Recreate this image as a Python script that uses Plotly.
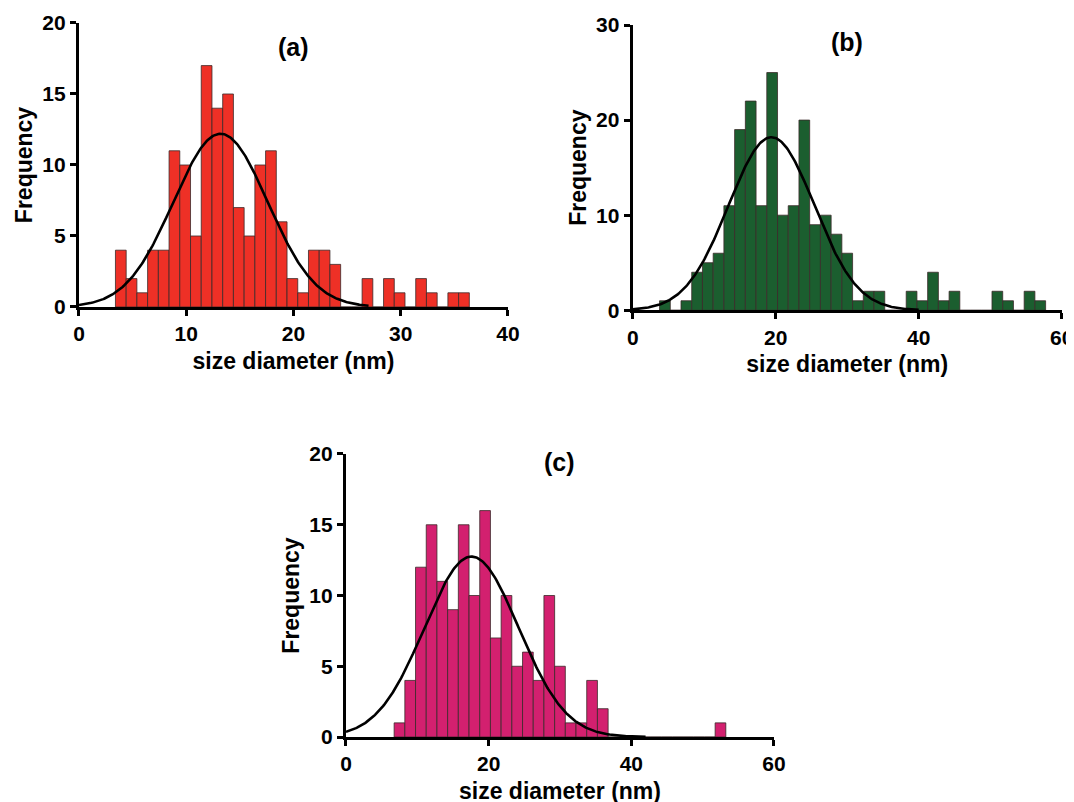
import numpy as np
import plotly.graph_objects as go

# ---------------- data ----------------
a_centers = [3.9, 4.9, 5.9, 6.9, 7.9, 8.9, 9.9, 10.9, 11.9, 12.9, 13.9, 14.9, 15.9,
             16.9, 17.9, 18.9, 19.9, 20.9, 21.9, 22.9, 23.9, 24.9, 25.9, 26.9, 27.9,
             28.9, 29.9, 30.9, 31.9, 32.9, 33.9, 34.9, 35.9]
a_counts = [4, 2, 1, 4, 4, 11, 10, 5, 17, 14, 15, 7, 5, 10, 11, 6, 2, 1, 4, 4, 3,
            0, 0, 2, 0, 2, 1, 0, 2, 1, 0, 1, 1]
a_width = 1.0
a_fit = {"amp": 12.2, "mean": 13.2, "sigma": 4.4, "xmax": 27}

b_centers = [4.5, 6.0, 7.5, 9.0, 10.5, 12.0, 13.5, 15.0, 16.5, 18.0, 19.5, 21.0,
             22.5, 24.0, 25.5, 27.0, 28.5, 30.0, 31.5, 33.0, 34.5, 36.0, 37.5, 39.0,
             40.5, 42.0, 43.5, 45.0, 46.5, 48.0, 49.5, 51.0, 52.5, 54.0, 55.5, 57.0]
b_counts = [1, 0, 1, 4, 5, 6, 11, 19, 22, 11, 25, 10, 11, 20, 9, 10, 8, 6, 1, 2, 2,
            0, 0, 2, 1, 4, 1, 2, 0, 0, 0, 2, 1, 0, 2, 1]
b_width = 1.5
b_fit = {"amp": 18.2, "mean": 19.4, "sigma": 6.0, "xmax": 40}

c_centers = [7.5, 9.0, 10.5, 12.0, 13.5, 15.0, 16.5, 18.0, 19.5, 21.0, 22.5, 24.0,
             25.5, 27.0, 28.5, 30.0, 31.5, 33.0, 34.5, 36.0, 37.5, 39.0, 40.5, 42.0,
             43.5, 45.0, 46.5, 48.0, 49.5, 51.0, 52.5]
c_counts = [1, 4, 12, 15, 11, 9, 15, 10, 16, 7, 10, 5, 6, 4, 10, 5, 1, 1, 4, 2,
            0, 0, 0, 0, 0, 0, 0, 0, 0, 0, 1]
c_width = 1.5
c_fit = {"amp": 12.75, "mean": 17.6, "sigma": 6.6, "xmax": 42}

panel_titles = ["(a)", "(b)", "(c)"]
x_label = "size diameter (nm)"
y_label = "Frequency"

# ---------------- styling ----------------
colors = ["#EE3026", "#1B5E2F", "#D3206F"]
FONT = "Liberation Sans, Arial, Helvetica, sans-serif"

panels = [
    dict(centers=a_centers, counts=a_counts, width=a_width, fit=a_fit,
         xr=[0, 40], xt=[0, 10, 20, 30, 40], yr=[0, 20], yt=[0, 5, 10, 15, 20],
         xdom=[0.0661, 0.4655], ydom=[0.6272, 0.9813], title_xy=(20, 18.3)),
    dict(centers=b_centers, counts=b_counts, width=b_width, fit=b_fit,
         xr=[0, 60], xt=[0, 20, 40, 60], yr=[0, 30], yt=[0, 10, 20, 30],
         xdom=[0.5817, 0.9811], ydom=[0.6231, 0.9788], title_xy=(30, 28.2)),
    dict(centers=c_centers, counts=c_counts, width=c_width, fit=c_fit,
         xr=[0, 60], xt=[0, 20, 40, 60], yr=[0, 20], yt=[0, 5, 10, 15, 20],
         xdom=[0.3147, 0.7132], ydom=[0.0910, 0.4439], title_xy=(30, 19.4)),
]

fig = go.Figure()
layout = dict(
    width=1074, height=802,
    margin=dict(l=0, r=0, t=0, b=0),
    paper_bgcolor="white", plot_bgcolor="white",
    showlegend=False,
    font=dict(family=FONT, color="black"),
)
annotations = []

for i, p in enumerate(panels):
    n = "" if i == 0 else str(i + 1)
    xa, ya = "x" + n, "y" + n
    fig.add_trace(go.Bar(
        x=p["centers"], y=p["counts"], width=p["width"],
        marker=dict(color=colors[i], line=dict(color="#3a2a2a", width=0.8)),
        xaxis=xa, yaxis=ya,
    ))
    f = p["fit"]
    xs = np.linspace(0, f["xmax"], 300)
    ys = f["amp"] * np.exp(-((xs - f["mean"]) ** 2) / (2 * f["sigma"] ** 2))
    fig.add_trace(go.Scatter(
        x=xs, y=ys, mode="lines", line=dict(color="black", width=2.6),
        xaxis=xa, yaxis=ya, cliponaxis=False,
    ))
    common = dict(showline=True, linecolor="black", linewidth=3.2, ticks="outside",
                  tickwidth=3, ticklen=6, tickcolor="black", showgrid=False,
                  zeroline=False, fixedrange=True, automargin=False,
                  tickfont=dict(family=FONT, size=21, color="black", weight="bold"))
    layout["xaxis" + n] = dict(
        domain=p["xdom"], range=p["xr"], tickvals=p["xt"], anchor=ya,
        title=dict(text=x_label, standoff=9,
                   font=dict(family=FONT, size=23, color="black", weight="bold")),
        **common)
    layout["yaxis" + n] = dict(
        domain=p["ydom"], range=p["yr"], tickvals=p["yt"], anchor=xa,
        title=dict(text=y_label, standoff=4,
                   font=dict(family=FONT, size=23, color="black", weight="bold")),
        **common)
    annotations.append(dict(
        x=p["title_xy"][0], y=p["title_xy"][1], xref=xa, yref=ya,
        text="<b>" + panel_titles[i] + "</b>", showarrow=False,
        font=dict(family=FONT, size=25, color="black")))

layout["annotations"] = annotations
fig.update_layout(**layout)
fig.write_html("out.html")
